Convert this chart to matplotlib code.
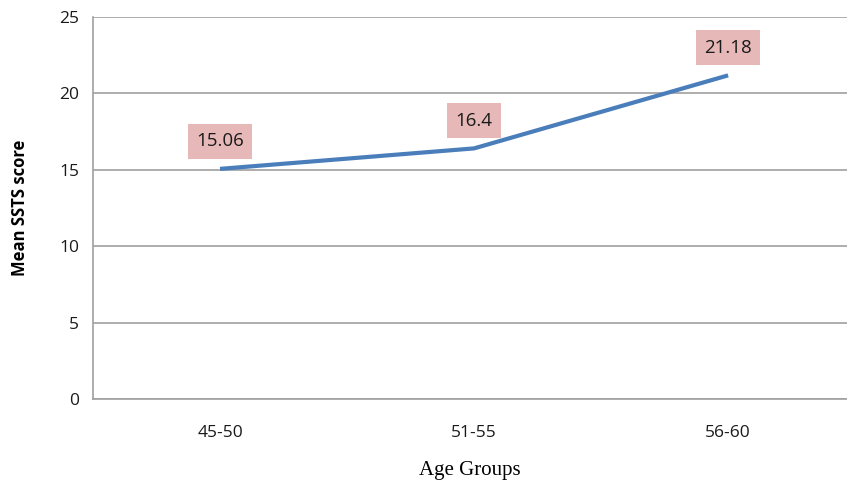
import matplotlib.pyplot as plt

groups = ['45-50', '51-55', '56-60']
mean_ssts = [15.06, 16.4, 21.18]
yticks = [0, 5, 10, 15, 20, 25]

fig = plt.figure(figsize=(8.47, 4.8), dpi=100)
ax = fig.add_axes((0.1098, 0.1688, 0.8902, 0.7958))

x = range(len(groups))
ax.plot(x, mean_ssts, color='#4a7ebb', lw=3, solid_capstyle='butt')

# value labels in pink boxes above each point
for xi, v in zip(x, mean_ssts):
    ax.annotate(f'{v:g}', (xi, v), xytext=(0, 20), textcoords='offset points',
                ha='center', va='center', fontsize=13.5, family='Open Sans', color='#1a1a1a',
                bbox=dict(boxstyle='square,pad=0.45', fc='#e6b9b8', ec='none'))

ax.set_xlim(-0.5, 2.468)
ax.set_ylim(0, 25)
ax.set_yticks(yticks)
ax.set_xticks(list(x))
ax.set_xticklabels(groups)
ax.grid(axis='y', color='#a0a0a0', lw=1.2)
ax.set_axisbelow(True)
ax.tick_params(length=0, labelsize=12.5, pad=10, colors='#1a1a1a')
ax.tick_params(axis='x', pad=19)
for lbl in ax.get_xticklabels() + ax.get_yticklabels():
    lbl.set_family('Open Sans')

for s in ['top', 'right']:
    ax.spines[s].set_visible(False)
for s in ['left', 'bottom']:
    ax.spines[s].set_color('#a0a0a0')
    ax.spines[s].set_linewidth(1.2)

ax.set_xlabel('Age Groups', family='Liberation Serif', fontsize=15, labelpad=14)
ax.set_ylabel('Mean SSTS score', family='Open Sans', fontweight='bold', fontsize=12, labelpad=22)

plt.savefig('out.png', dpi=100)
